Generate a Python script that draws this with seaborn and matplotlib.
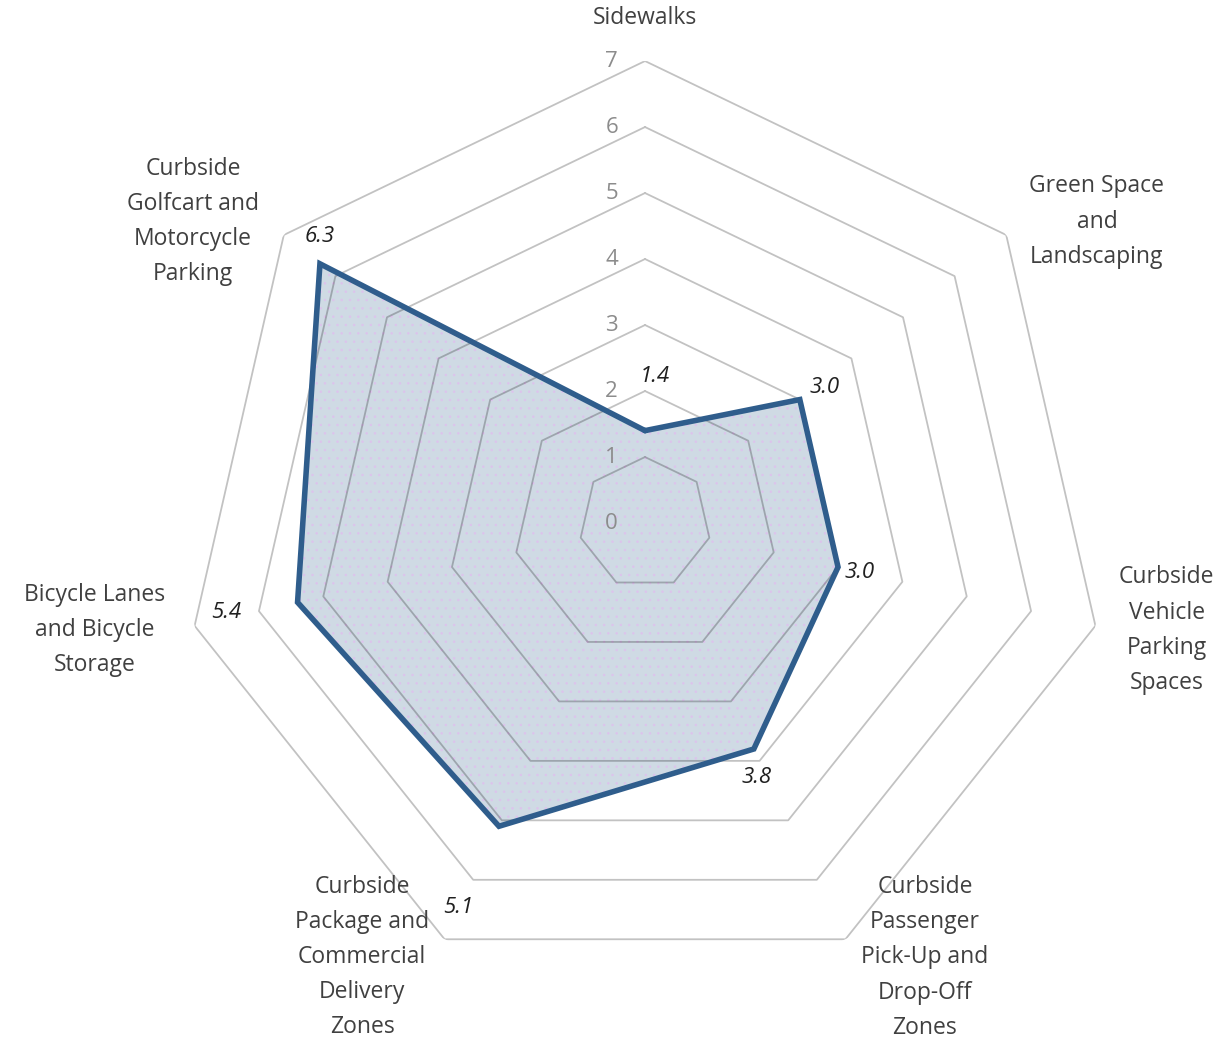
import numpy as np
import matplotlib
matplotlib.use("Agg")
import matplotlib.pyplot as plt
import seaborn as sns

sns.set_theme(style="white")
plt.rcParams["font.family"] = ["Open Sans", "DejaVu Sans"]
plt.rcParams["hatch.linewidth"] = 0.6

categories = [
    "Sidewalks",
    "Green Space\nand\nLandscaping",
    "Curbside\nVehicle\nParking\nSpaces",
    "Curbside\nPassenger\nPick-Up and\nDrop-Off\nZones",
    "Curbside\nPackage and\nCommercial\nDelivery\nZones",
    "Bicycle Lanes\nand Bicycle\nStorage",
    "Curbside\nGolfcart and\nMotorcycle\nParking",
]
values = [1.4, 3.0, 3.0, 3.8, 5.1, 5.4, 6.3]
ring_ticks = [0, 1, 2, 3, 4, 5, 6, 7]

# label placement (theta deg clockwise from top, radius) for category names
cat_pos = [(0, 7.65), (56.3, 8.23), (101.6, 8.07), (147.2, 7.83),
           (213.1, 7.85), (259.0, 8.49), (303.7, 8.23)]
# data label offsets in pixels from vertex (dx, dy up)
val_off = [(10, 54), (25, 12), (22, -5), (3, -29), (-41, -81), (-71, -10), (0, 27)]

line_col = "#2F5D8C"
fill_col = "#CFDAE4"
text_col = "#404040"

n = len(categories)
angles = np.linspace(0, 2 * np.pi, n, endpoint=False)
closed_a = np.append(angles, angles[0])
closed_v = np.append(values, values[0])

fig = plt.figure(figsize=(12.3, 10.45), dpi=100)
ax = fig.add_axes([0.1488, 0.0574, 0.7512, 0.8842], projection="polar")
ax.set_theta_offset(np.pi / 2)
ax.set_theta_direction(-1)
ax.set_ylim(0, 7)
ax.grid(False)
ax.spines["polar"].set_visible(False)
ax.set_xticks([])
ax.set_yticks([])
ax.patch.set_alpha(0)

# filled series with dotted pattern
ax.fill(closed_a, closed_v, facecolor=fill_col, edgecolor="none", zorder=1)
ax.fill(closed_a, closed_v, facecolor="none", edgecolor="#DCC4EC", hatch="..",
        linewidth=0, zorder=1.5)

# heptagon gridlines drawn over the fill
for r in ring_ticks[1:]:
    ax.plot(closed_a, [r] * (n + 1), color="black", alpha=0.24, lw=1.3, zorder=2)

ax.plot(closed_a, closed_v, color=line_col, lw=4, zorder=3, solid_joinstyle="miter")

# ring labels
for r in ring_ticks:
    ax.annotate(str(r), xy=(0, r), xytext=(-24, 0), textcoords="offset points",
                ha="center", va="center", fontsize=16, color="#8C8C8C")

# data labels
for a, v, (dx, dy) in zip(angles, values, val_off):
    ax.annotate(f"{v:.1f}", xy=(a, v), xytext=(dx * 0.72, dy * 0.72),
                textcoords="offset points", ha="center", va="center",
                fontsize=16, style="italic", color="#202020")

# category labels
for lab, (t, r) in zip(categories, cat_pos):
    ax.text(np.deg2rad(t), r, lab, ha="center", va="center", fontsize=16.5,
            color=text_col, linespacing=1.62, clip_on=False)

fig.savefig("out.png", dpi=100)
